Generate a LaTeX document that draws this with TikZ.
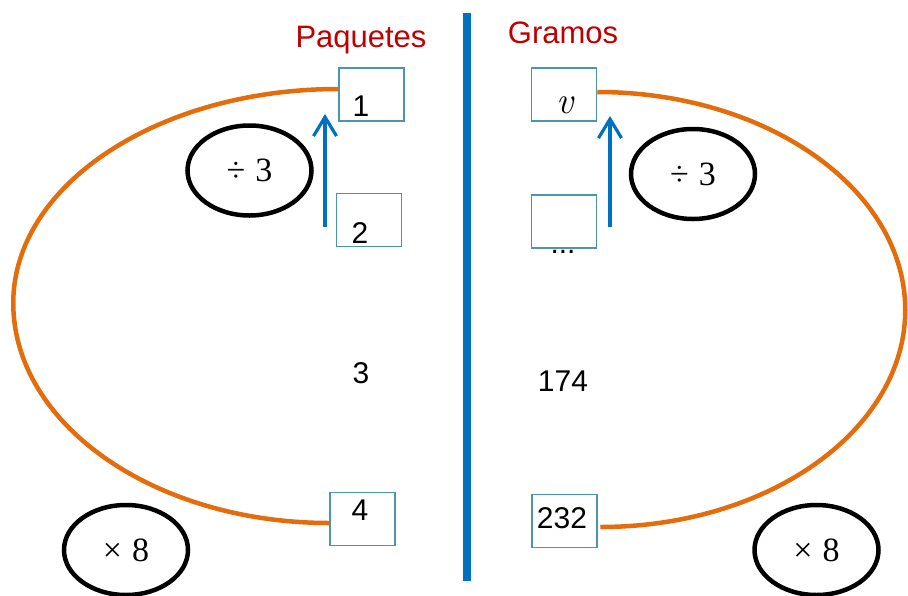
\documentclass[tikz,border=0pt]{standalone}
\usepackage{fontspec}
\setsansfont{Liberation Sans}
\newfontfamily\opfont{Liberation Serif}
\usetikzlibrary{shapes.geometric,arrows.meta}

\definecolor{orng}{RGB}{228,108,10}
\definecolor{blu}{RGB}{0,112,192}
\definecolor{hred}{RGB}{192,0,0}
\definecolor{boxc}{RGB}{75,150,175}

\begin{document}
\begin{tikzpicture}[x=1pt,y=-1pt,
  box/.style={draw=boxc, line width=1.5pt, fill=white, minimum width=65pt,
    minimum height=53pt, inner sep=0pt},
  num/.style={anchor=base, inner sep=0pt, font=\sffamily\fontsize{30}{36}\selectfont},
  head/.style={anchor=base, inner sep=0pt, text=hred, font=\sffamily\fontsize{31}{36}\selectfont},
  op/.style={ellipse, draw, line width=4.5pt, minimum width=124pt, minimum height=90pt,
    inner sep=0pt, font=\opfont\fontsize{34}{38}\selectfont},
  loop/.style={draw=orng, line width=4.5pt},
  up/.style={draw=blu, line width=3.2pt, -{Straight Barb[length=19pt,width=23pt]}}]
\useasboundingbox (0,0) rectangle (908,595);

% headings and the dividing bar
\node[head] (hpaq) at (361,47) {Paquetes};
\node[head] (hgra) at (563,43) {Gramos};
\coordinate (bartop) at (467,13);
\coordinate (barbot) at (467,581);
\draw[blu, line width=8pt] (bartop) -- (barbot);

% ellipsis peeking out below the empty box
\node[num] (dots) at (563,253) {...};

% value boxes
\node[box] (b1) at (371.5,94.5) {};
\node[box] (b2) at (369,220) {};
\node[box] (b4) at (362.5,519) {};
\node[box] (bv) at (564,94.5) {};
\node[box] (bq) at (564,221.5) {};
\node[box] (b232) at (564.5,521) {};

% numbers
\node[num] (t1) at (361,116) {1};
\node[num] (t2) at (360,243) {2};
\node[num] (t3) at (361,383) {3};
\node[num] (t4) at (360,520) {4};
\node[num, font=\rmfamily\itshape\fontsize{38}{40}\selectfont] (tv) at (565,113) {v};
\node[num] (t174) at (563,391) {174};
\node[num] (t232) at (562,528) {232};

% orange loops joining the first and last rows
\draw[loop] (b1.west |- 0,89) arc[start angle=-90, end angle=-180, x radius=325, y radius=214]
  arc[start angle=-180, end angle=-270, x radius=316, y radius=220];
\draw[loop] (bv.east |- 0,92) arc[start angle=-90, end angle=0, x radius=308, y radius=218]
  arc[start angle=0, end angle=90, x radius=305, y radius=217];

% blue arrows
\coordinate (la0) at (325,227);
\coordinate (la1) at (325,114);
\coordinate (ra0) at (610,227);
\coordinate (ra1) at (610,116);
\draw[up] (la0) -- (la1);
\draw[up] (ra0) -- (ra1);

% operator ellipses
\node[op] (dl) at (249.5,170.5) {÷\hspace{0.3em}3};
\node[op] (dr) at (693,174) {÷\hspace{0.3em}3};
\node[op] (ml) at (126,550) {×\hspace{0.3em}8};
\node[op] (mr) at (816.5,550) {×\hspace{0.3em}8};
\end{tikzpicture}
\end{document}
